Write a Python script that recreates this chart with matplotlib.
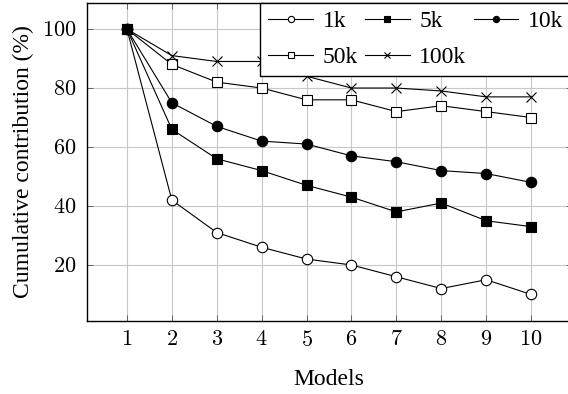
import matplotlib
matplotlib.use("Agg")
import matplotlib.pyplot as plt
from matplotlib.ticker import FuncFormatter

plt.rcParams['font.family'] = ['Liberation Serif', 'DejaVu Serif']
plt.rcParams['mathtext.fontset'] = 'cm'
plt.rcParams['font.size'] = 17

# data
models = [1, 2, 3, 4, 5, 6, 7, 8, 9, 10]
vals_1k = [100, 42, 31, 26, 22, 20, 16, 12, 15, 10]
vals_5k = [100, 66, 56, 52, 47, 43, 38, 41, 35, 33]
vals_10k = [100, 75, 67, 62, 61, 57, 55, 52, 51, 48]
vals_50k = [100, 88, 82, 80, 76, 76, 72, 74, 72, 70]
vals_100k = [100, 91, 89, 89, 84, 80, 80, 79, 77, 77]
y_ticks = [20, 40, 60, 80, 100]

W, H = 568, 394
fig = plt.figure(figsize=(W / 100, H / 100), dpi=100)
# axes runs slightly past the right edge, like the cropped original
ax = fig.add_axes([86.5 / W, 1 - 321 / H, 485 / W, 318.5 / H])

series = [
    (vals_1k, 'o', 'white', '1k', 7.5, 3),
    (vals_5k, 's', 'black', '5k', 7.5, 5),
    (vals_10k, 'o', 'black', '10k', 7.5, 3),
    (vals_50k, 's', 'white', '50k', 7.5, 3),
    (vals_100k, 'x', 'black', '100k', 7, 3),
]
lines = {}
for vals, mk, fc, lab, ms, z in series:
    lines[lab], = ax.plot(models, vals, color='black', lw=0.8, marker=mk, ms=ms,
                          mfc=fc, mec='black', mew=0.8, label=lab, zorder=z)

ax.set_xlim(0.1, 10.9)
ax.set_ylim(1, 109)
ax.set_xticks(models)
ax.set_yticks(y_ticks)
fmt = FuncFormatter(lambda v, p: f"${int(v)}$")
ax.xaxis.set_major_formatter(fmt)
ax.yaxis.set_major_formatter(fmt)
ax.tick_params(direction='in', length=4, width=0.6, top=True, right=True,
               labelsize=16, pad=7, color='#555555')
ax.grid(True, color='#c8c8c8', lw=0.8)
ax.set_axisbelow(True)
for s in ax.spines.values():
    s.set_linewidth(1.0)

ax.set_xlabel('Models', labelpad=13)
ax.set_ylabel('Cumulative contribution (%)', labelpad=6)

# column-major order so the legend reads 1k 5k 10k / 50k 100k
order = ['1k', '50k', '5k', '100k', '10k']
leg = ax.legend([lines[k] for k in order], order, ncol=3, loc='upper right',
                borderaxespad=0, fancybox=False, edgecolor='black',
                framealpha=1, markerscale=0.6, handlelength=1.9,
                handletextpad=0.4, columnspacing=0.3, labelspacing=0.6,
                borderpad=0.35)
leg.get_frame().set_linewidth(1.0)

fig.savefig('out.png', dpi=100)
